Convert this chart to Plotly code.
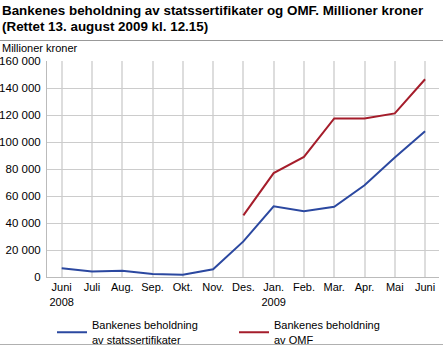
import plotly.graph_objects as go

months = ["Juni<br>2008", "Juli", "Aug.", "Sep.", "Okt.", "Nov.", "Des.",
          "Jan.<br>2009", "Feb.", "Mar.", "Apr.", "Mai", "Juni"]
statssert = [6500, 4000, 4700, 2200, 1700, 5700, 26400, 52400, 48800, 52000, 68000, 88500, 108000]
omf = [None, None, None, None, None, None, 45700, 77000, 89000, 117500, 117500, 121200, 146500]
yticks = [0, 20000, 40000, 60000, 80000, 100000, 120000, 140000, 160000]
ytick_text = ["0", "20 000", "40 000", "60 000", "80 000", "100 000", "120 000", "140 000", "160 000"]
title_lines = ["Bankenes beholdning av statssertifikater og OMF. Millioner kroner",
               "(Rettet 13. august 2009 kl. 12.15)"]
unit_label = "Millioner kroner"

name_blue = "Bankenes beholdning<br>av statssertifikater"
name_red = "Bankenes beholdning<br>av OMF"

xs = list(range(len(months)))
fig = go.Figure()
fig.add_trace(go.Scatter(x=xs, y=statssert, mode="lines", name=name_blue,
                         line=dict(color="#2b48a0", width=2)))
fig.add_trace(go.Scatter(x=xs, y=omf, mode="lines", name=name_red,
                         line=dict(color="#a51d2b", width=2), connectgaps=False))

W, H = 443, 354
left, right, top, bottom = 47, 439, 61, 276.6
pw, ph = right - left, bottom - top

def px_x(p):
    return (p - left) / pw

def px_y(p):
    return (bottom - p) / ph

font = "Liberation Sans, Arial, sans-serif"
fig.update_layout(
    template="none",
    width=W, height=H,
    margin=dict(l=left, r=W - right, t=top, b=H - bottom, pad=0, autoexpand=False),
    paper_bgcolor="white", plot_bgcolor="white",
    font=dict(family=font, size=11, color="#000000"),
    xaxis=dict(range=[-0.485, 12.46], tickmode="array", tickvals=xs, ticktext=months,
               showgrid=True, gridcolor="#dddddd", gridwidth=2, zeroline=False, automargin=False,
               showline=True, linecolor="#bbbbbb", linewidth=1, mirror=False,
               ticks="", ticklen=0, tickfont=dict(size=11)),
    yaxis=dict(range=[0, 160000], tickmode="array", tickvals=yticks, ticktext=ytick_text,
               showgrid=True, gridcolor="#cccccc", gridwidth=1, zeroline=False, automargin=False,
               showline=True, linecolor="#bbbbbb", linewidth=1, ticks="", ticklabelstandoff=3,
               tickfont=dict(size=11.5)),
    legend=dict(orientation="h", x=px_x(52), xanchor="left", y=px_y(311), yanchor="top",
                font=dict(size=11), entrywidth=137, entrywidthmode="pixels",
                bgcolor="rgba(0,0,0,0)", borderwidth=0, tracegroupgap=0),
    showlegend=True,
)

# separator rules above the chart and below the legend (thin filled annotation boxes)
for yp, col in [(40.5, "#999999"), (343.5, "#b0b0b0")]:
    fig.add_annotation(text=" ", xref="paper", yref="paper", x=px_x(0), y=px_y(yp),
                       xanchor="left", yanchor="middle", showarrow=False,
                       width=W, height=1, bgcolor=col, borderpad=0, borderwidth=0,
                       font=dict(size=1))
for i, (txt, yc) in enumerate(zip(title_lines, [10.5, 27])):
    fig.add_annotation(text="<b>" + txt + "</b>", xref="paper", yref="paper", x=px_x(1), y=px_y(yc),
                       xanchor="left", yanchor="middle", showarrow=False,
                       font=dict(size=13.4, family=font), borderpad=0)
fig.add_annotation(text=unit_label, xref="paper", yref="paper", x=px_x(1), y=px_y(48),
                   xanchor="left", yanchor="middle", showarrow=False, font=dict(size=11), borderpad=0)

fig.write_html("out.html")
